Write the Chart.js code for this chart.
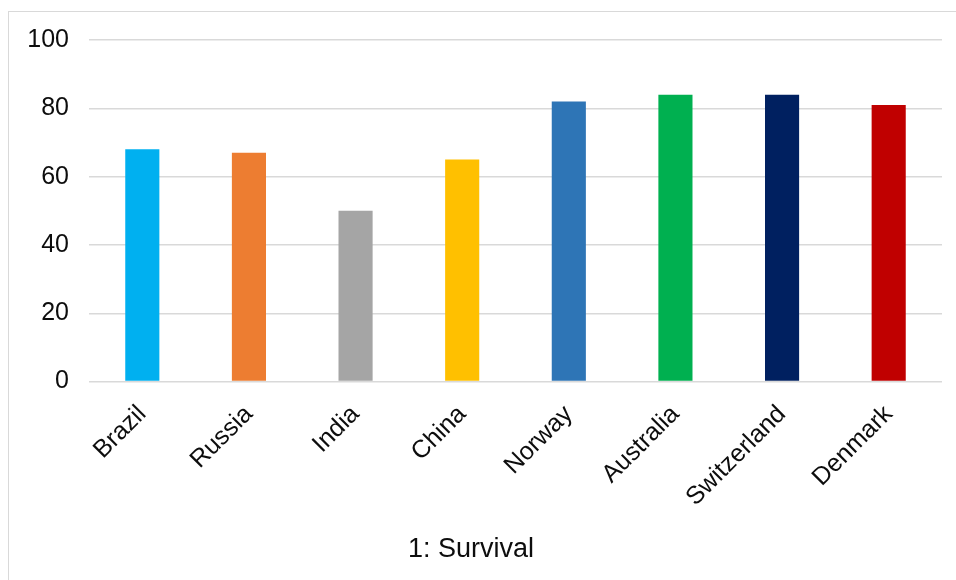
<!DOCTYPE html>
<html>
<head>
<meta charset="utf-8">
<script src="https://cdn.jsdelivr.net/npm/chart.js@4/dist/chart.umd.min.js"></script>
<style>
  html, body { margin: 0; padding: 0; background: #fff; }
  #wrap { position: relative; width: 956px; height: 580px; overflow: hidden; }
  #frame { position: absolute; left: 8px; top: 11px; width: 960px; height: 580px;
           border-top: 1.5px solid #d9d9d9; border-left: 1.5px solid #d9d9d9; box-sizing: border-box; }
  canvas { position: absolute; left: 0; top: 0; }
</style>
</head>
<body>
<div id="wrap">
  <div id="frame"></div>
  <canvas id="c" width="956" height="580"></canvas>
</div>
<script>
// Survival scores by country
const countries = ["Brazil", "Russia", "India", "China", "Norway", "Australia", "Switzerland", "Denmark"];
const survival = [68, 67, 50, 65, 82, 84, 84, 81];
const barColors = ["#00B0F0", "#ED7D31", "#A5A5A5", "#FFC000", "#2E75B6", "#00B050", "#002060", "#C00000"];
const yTicks = [0, 20, 40, 60, 80, 100];

const FONT = "'Liberation Sans', Arial, sans-serif";

new Chart(document.getElementById("c"), {
  type: "bar",
  data: {
    labels: countries,
    datasets: [{
      label: "1: Survival",
      data: survival,
      backgroundColor: barColors,
      borderWidth: 0,
      barPercentage: 0.32,
      categoryPercentage: 1.0
    }]
  },
  options: {
    responsive: false,
    animation: false,
    layout: { padding: { top: 40, right: 14, left: 0, bottom: 0 } },
    plugins: {
      legend: { display: false },
      tooltip: { enabled: false },
      title: {
        display: true,
        text: "1: Survival",
        position: "bottom",
        color: "#0d0d0d",
        font: { family: FONT, size: 27, weight: "normal" },
        padding: { top: 10, bottom: 14 }
      }
    },
    scales: {
      y: {
        min: 0,
        max: 100,
        afterBuildTicks: (s) => { s.ticks = yTicks.map(v => ({ value: v })); },
        afterFit: (s) => { s.width = 89; },
        border: { display: false },
        grid: { color: "#d9d9d9", lineWidth: 1.5, drawTicks: false },
        ticks: {
          color: "#0d0d0d",
          padding: 20,
          font: { family: FONT, size: 25 }
        }
      },
      x: {
        afterFit: (s) => { s.height = 142; },
        border: { display: false },
        grid: { display: false },
        ticks: {
          color: "#0d0d0d",
          autoSkip: false,
          minRotation: 45,
          maxRotation: 45,
          padding: 10,
          font: { family: FONT, size: 25 }
        }
      }
    }
  }
});
</script>
</body>
</html>
